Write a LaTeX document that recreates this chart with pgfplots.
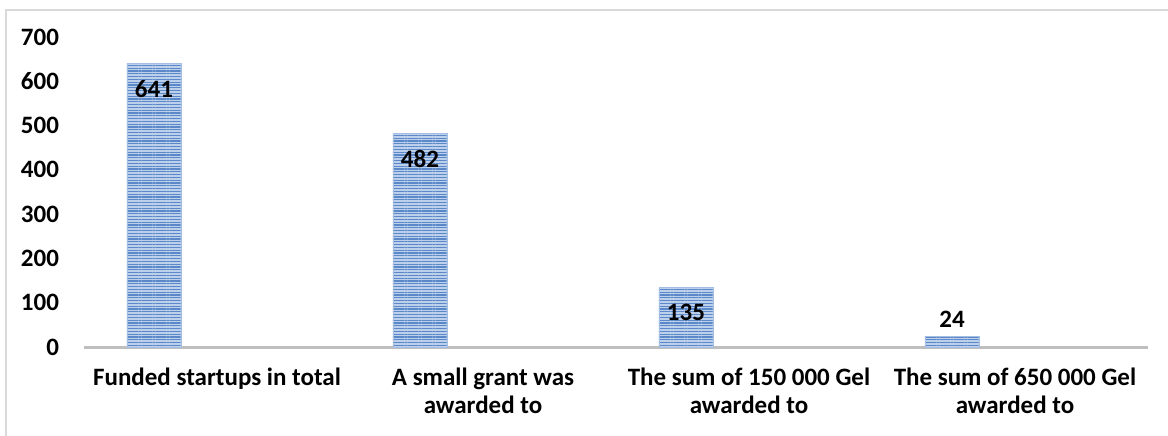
\documentclass[border=0pt]{standalone}
\usepackage{fontspec}
\setmainfont{Carlito}
\usepackage{pgfplots}
\pgfplotsset{compat=1.18}
\usetikzlibrary{patterns.meta}
\definecolor{barfill}{HTML}{BCD0EC}
\definecolor{barline}{HTML}{5A88C8}
\definecolor{baredge}{HTML}{A4BEE3}
\definecolor{axgray}{HTML}{BFBFBF}
\definecolor{frame}{HTML}{D9D9D9}
\begin{document}
\begin{tikzpicture}
\useasboundingbox (0,0) rectangle (584pt,217.5pt);
\draw[frame, line width=1pt] (3pt,-2pt) -- (3pt,212.5pt) -- (586pt,212.5pt);
\begin{axis}[
  at={(42pt,44pt)}, anchor=south west,
  scale only axis, width=532pt, height=155pt,
  xmin=-0.5, xmax=3.5, ymin=0, ymax=700,
  ytick={0,100,...,700},
  xtick={0,1,2,3},
  xticklabels={{Funded startups in total},{A small grant was\\awarded to},{The sum of 150 000 Gel\\awarded to},{The sum of 650 000 Gel\\awarded to}},
  axis line style={draw=none},
  major tick length=0pt,
  tick label style={font=\fontsize{12.5}{14}\selectfont\bfseries},
  xticklabel style={align=center, anchor=north, yshift=-7pt},
  yticklabel style={anchor=east, xshift=-9pt},
  /pgf/number format/assume math mode=true,
  clip=false,
]
\draw[axgray, line width=1.5pt] (rel axis cs:0,0) -- (rel axis cs:1,0);
\addplot[ybar, bar width=27pt, bar shift=-31.5pt, draw=baredge, fill=barfill,
  postaction={pattern={Lines[angle=0, distance=1.4pt, line width=0.6pt]}, pattern color=barline},
  nodes near coords, nodes near coords style={anchor=north, xshift=-31.5pt, yshift=-5pt, font=\fontsize{12.5}{14}\selectfont\bfseries, text=black}]
  coordinates {(0,641) (1,482) (2,135)};
\addplot[ybar, bar width=27pt, bar shift=-31.5pt, draw=baredge, fill=barfill,
  postaction={pattern={Lines[angle=0, distance=1.4pt, line width=0.6pt]}, pattern color=barline},
  nodes near coords, nodes near coords style={anchor=south, xshift=-31.5pt, yshift=1pt, font=\fontsize{12.5}{14}\selectfont\bfseries, text=black}]
  coordinates {(3,24)};
\end{axis}
\end{tikzpicture}
\end{document}
